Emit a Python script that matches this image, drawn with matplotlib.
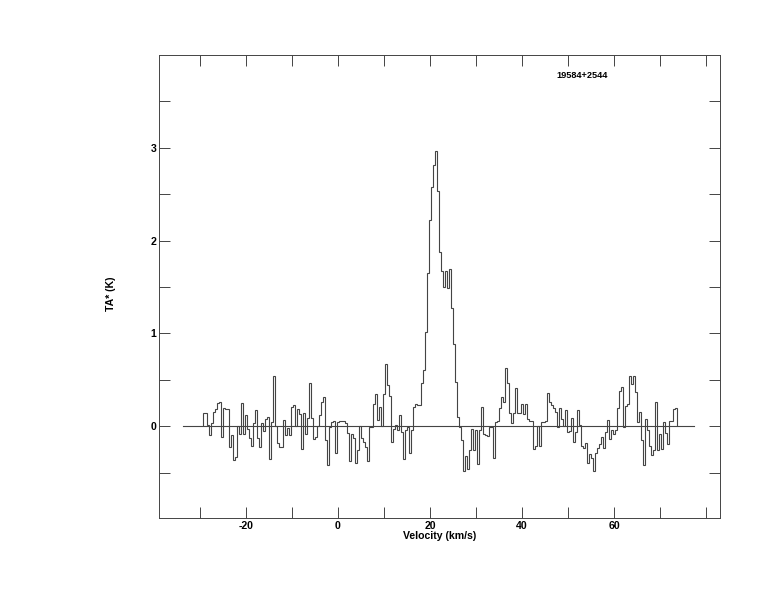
import numpy as np
import matplotlib
matplotlib.use("Agg")
import matplotlib.pyplot as plt

# Spectrum: antenna temperature per channel (K)
v_start = -29.35
v_end = 73.6
ta = [
    # -29 .. -4 km/s
    0.14, 0.14, 0.01, -0.10, 0.03, 0.15, 0.19, 0.25, 0.26, -0.12,
    0.20, 0.19, 0.19, -0.23, -0.10, -0.36, -0.33, 0.00, -0.09, 0.25,
    -0.09, 0.12, -0.03, -0.13, -0.21, 0.03, 0.17, -0.13, -0.23, 0.03,
    -0.05, 0.08, 0.10, -0.35, 0.04, 0.54, 0.00, -0.18, -0.23, -0.23,
    0.07, -0.10, -0.02, -0.10, 0.21, 0.23, 0.00, 0.18, 0.13, -0.25,
    0.14, -0.08, 0.09, 0.46, 0.09, -0.14, -0.12, 0.00,
    # -4 .. 26 km/s
    0.12, 0.26, 0.31, -0.15, -0.42, -0.01, 0.05, 0.06, -0.29, 0.04,
    0.06, 0.06, 0.06, 0.03, -0.07, -0.38, -0.08, -0.13, -0.40, -0.26,
    0.00, -0.13, -0.17, -0.23, -0.38, -0.01, -0.01, 0.24, 0.35, 0.07,
    0.21, 0.00, 0.35, 0.67, 0.44, 0.32, -0.17, -0.03, 0.01, -0.04,
    0.12, -0.06, -0.35, -0.04, -0.01, -0.29, -0.04, 0.21, 0.24, 0.23,
    0.23, 0.47, 0.60, 1.01, 1.65, 2.22, 2.58, 2.81, 2.96, 2.53,
    1.88, 1.67, 1.50, 1.67, 1.49, 1.69, 1.27, 0.89, 0.48, 0.10,
    # 26 .. 48 km/s
    -0.01, -0.15, -0.48, -0.32, -0.46, -0.26, -0.03, -0.26, -0.04, -0.41,
    -0.04, 0.21, -0.09, -0.10, -0.11, -0.01, -0.01, -0.34, 0.05, 0.06,
    0.20, 0.31, 0.26, 0.63, 0.47, 0.14, 0.03, 0.14, 0.41, 0.14,
    0.14, 0.24, 0.13, 0.24, 0.08, 0.06, 0.06, -0.25, -0.21, 0.00,
    -0.21, 0.04, 0.05, 0.06, 0.36, 0.26, 0.23, 0.20, 0.15, -0.01,
    # 48 .. 74 km/s
    0.20, 0.08, 0.00, 0.17, -0.06, -0.05, 0.09, -0.17, -0.06, 0.17,
    0.01, -0.21, -0.24, -0.18, -0.40, -0.30, -0.34, -0.48, -0.29, -0.24,
    -0.19, -0.12, -0.24, -0.06, 0.07, -0.14, -0.04, -0.08, -0.04, 0.20,
    0.38, 0.42, -0.01, 0.22, 0.24, 0.54, 0.45, 0.54, 0.37, 0.05,
    0.15, -0.15, -0.42, 0.08, -0.04, -0.21, -0.31, -0.26, 0.26, -0.26,
    -0.08, -0.25, 0.05, -0.07, -0.19, 0.06, 0.06, 0.19, 0.20,
]
baseline_range = (-33.7, 77.4)
source_name = "19584+2544"
x_ticks = [-20, 0, 20, 40, 60]
y_ticks = [0, 1, 2, 3]

edges = np.linspace(v_start, v_end, len(ta) + 1)

fig = plt.figure(figsize=(7.74, 6.12), dpi=100)
ax = fig.add_axes([159/774, 1-518/612, (720-159)/774, (518-55)/612])

ax.stairs(ta, edges, color="#444444", lw=0.8)
ax.plot(baseline_range, [0, 0], color="#444444", lw=0.8)

ax.set_xlim(-38.9, 83.0)
ax.set_ylim(-0.99, 4.0)

ax.set_xticks(x_ticks)
ax.set_xticks(np.arange(-30, 81, 10), minor=True)
ax.set_yticks(y_ticks)
ax.set_yticks(np.arange(-0.5, 3.6, 0.5), minor=True)

fp = dict(family="Liberation Sans", weight="bold", size=7.6)
ax.set_xticklabels([str(t) for t in x_ticks], **fp)
ax.set_yticklabels([str(t) for t in y_ticks], **fp)

for which in ("major", "minor"):
    ax.tick_params(axis="both", which=which, direction="in", length=8, width=0.7,
                   top=True, right=True, color="#444444", pad=2)

for s in ax.spines.values():
    s.set_linewidth(0.7)
    s.set_color("#444444")

ax.set_xlabel("Velocity (km/s)", labelpad=0, **fp)
ax.set_ylabel("TA* (K)", **fp)
ax.yaxis.set_label_coords(-0.0766, 0.485)

ax.text(0.709, 0.955, source_name, transform=ax.transAxes, ha="left", va="center",
        family="Liberation Sans", weight="bold", size=6.6)

fig.savefig("out.png", dpi=100)
